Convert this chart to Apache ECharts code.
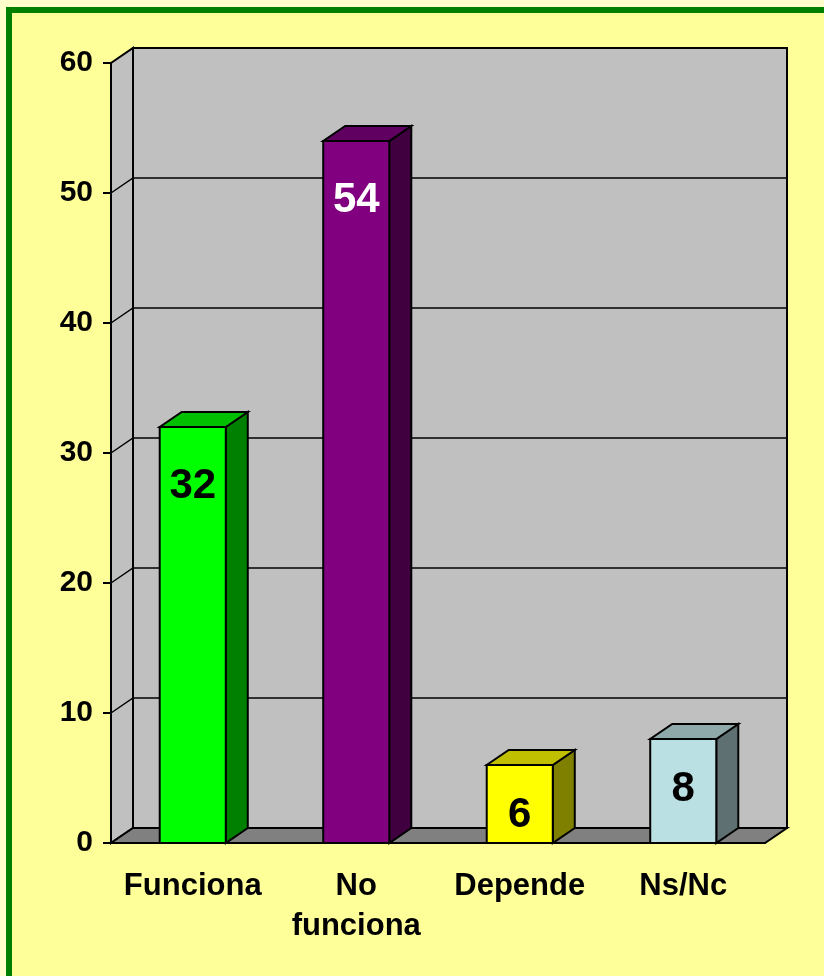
<!DOCTYPE html>
<html>
<head>
<meta charset="utf-8">
<script src="https://cdn.jsdelivr.net/npm/echarts@6/dist/echarts.min.js"></script>
<style>
  html, body { margin: 0; padding: 0; background: #FFFFCC; overflow: hidden; }
  #frame { position: absolute; left: 6px; top: 7px; width: 840px; height: 990px;
           border: 6px solid #008000; background: #FFFF99; }
  #chart { position: absolute; left: 0; top: 0; width: 824px; height: 976px; }
</style>
</head>
<body>
<div id="frame"></div>
<div id="chart"></div>
<script>
// datos
const categories = ['Funciona', 'No\nfunciona', 'Depende', 'Ns/Nc'];
const values = [32, 54, 6, 8];
const yTicks = [0, 10, 20, 30, 40, 50, 60];

// colores: frente, lado, arriba, etiqueta
const frontColors = ['#00FF00', '#800080', '#FFFF00', '#BBE0E3'];
const sideColors = ['#008000', '#400040', '#808000', '#5E7072'];
const topColors = ['#00C000', '#600060', '#C0C000', '#8FA9AB'];
const labelColors = ['#000', '#fff', '#000', '#000'];

const DX = 22, DY = -15; // profundidad 3D
const FONT = '"Liberation Sans", Arial, sans-serif';

let chart = echarts.init(document.getElementById('chart'));

function renderWalls(params, api) {
  const cs = params.coordSys;
  const x0 = cs.x, x1 = cs.x + cs.width, yb = cs.y + cs.height, yt = cs.y;
  const kids = [];
  // pared izquierda
  kids.push({ type: 'polygon', shape: { points: [[x0, yb], [x0 + DX, yb + DY], [x0 + DX, yt + DY], [x0, yt]] },
    style: { fill: '#C0C0C0', stroke: '#000', lineWidth: 2 } });
  // pared del fondo
  kids.push({ type: 'rect', shape: { x: x0 + DX, y: yt + DY, width: cs.width, height: cs.height },
    style: { fill: '#C0C0C0', stroke: '#000', lineWidth: 2 } });
  // lineas de division
  yTicks.slice(1, -1).forEach(function (v) {
    const y = api.coord([0, v])[1];
    kids.push({ type: 'polyline', shape: { points: [[x0, y], [x0 + DX, y + DY], [x1 + DX, y + DY]] },
      style: { fill: null, stroke: '#000', lineWidth: 1.5 } });
  });
  // suelo
  kids.push({ type: 'polygon', shape: { points: [[x0, yb], [x1, yb], [x1 + DX, yb + DY], [x0 + DX, yb + DY]] },
    style: { fill: '#808080', stroke: '#000', lineWidth: 2 } });
  return { type: 'group', children: kids };
}

function renderBar(params, api) {
  const i = api.value(0), v = api.value(1);
  const top = api.coord([i, v]);
  const base = api.coord([i, 0]);
  const band = api.size([1, 0])[0];
  const w = band * 0.404;
  const xa = top[0] - w / 2, xb = top[0] + w / 2;
  const h = base[1] - top[1];
  const ln = { stroke: '#000', lineWidth: 2 };
  return {
    type: 'group',
    children: [
      { type: 'polygon', shape: { points: [[xb, top[1]], [xb + DX, top[1] + DY], [xb + DX, base[1] + DY], [xb, base[1]]] },
        style: Object.assign({ fill: sideColors[i] }, ln) },
      { type: 'polygon', shape: { points: [[xa, top[1]], [xb, top[1]], [xb + DX, top[1] + DY], [xa + DX, top[1] + DY]] },
        style: Object.assign({ fill: topColors[i] }, ln) },
      { type: 'rect', shape: { x: xa, y: top[1], width: w, height: h },
        style: Object.assign({ fill: frontColors[i] }, ln) },
      { type: 'text', x: top[0], y: top[1] + (h > 200 ? 59 : 50),
        style: { text: String(v), fill: labelColors[i], font: 'bold 42px ' + FONT, align: 'center', verticalAlign: 'middle' } }
    ]
  };
}

const option = {
  animation: false,
  grid: { left: 111, top: 63, width: 654, height: 780, containLabel: false },
  xAxis: {
    type: 'category',
    data: categories,
    axisLine: { lineStyle: { color: '#000', width: 2 } },
    axisTick: { length: 11, lineStyle: { color: '#000', width: 2 } },
    axisLabel: { color: '#000', fontFamily: FONT, fontWeight: 'bold', fontSize: 31, lineHeight: 40, margin: 23, interval: 0 },
    splitLine: { show: false }
  },
  yAxis: {
    type: 'value',
    min: 0, max: 60, interval: 10,
    axisLine: { show: true, lineStyle: { color: '#000', width: 2 } },
    axisTick: { show: true, length: 8, lineStyle: { color: '#000', width: 2 } },
    axisLabel: { color: '#000', fontFamily: FONT, fontWeight: 'bold', fontSize: 30, margin: 18 },
    splitLine: { show: false }
  },
  series: [
    { type: 'custom', renderItem: renderWalls, data: [[0, 0]], clip: false, silent: true, z: 1 },
    { type: 'custom', renderItem: renderBar, data: values.map(function (v, i) { return [i, v]; }), clip: false, z: 3 }
  ]
};

chart.setOption(option);
window.addEventListener('resize', () => { chart.resize(); });
</script>
</body>
</html>
